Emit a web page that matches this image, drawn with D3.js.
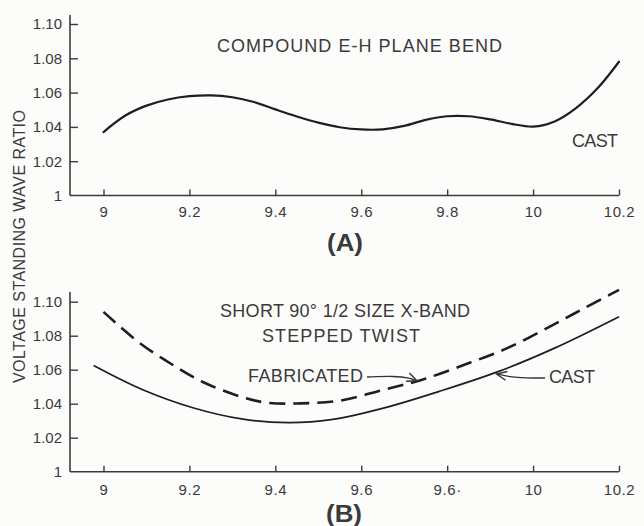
<!DOCTYPE html>
<html>
<head>
<meta charset="utf-8">
<script src="https://cdn.jsdelivr.net/npm/d3@7"></script>
<style>
  html, body { margin: 0; padding: 0; background: #fcfcfa; }
  svg { display: block; }
  text { font-family: "Liberation Sans", Arial, sans-serif; fill: #3a3a3a; }
</style>
</head>
<body>
<svg id="chart" width="644" height="526"></svg>
<script>
// Frequency (GHz) ticks shared by both panels
const xTicks = [9, 9.2, 9.4, 9.6, 9.8, 10, 10.2];
const xTickLabelsA = ["9", "9.2", "9.4", "9.6", "9.8", "10", "10.2"];
const xTickLabelsB = ["9", "9.2", "9.4", "9.6", "9.6·", "10", "10.2"];
const yTicks = [1, 1.02, 1.04, 1.06, 1.08, 1.10];
const yTickLabels = ["1", "1.02", "1.04", "1.06", "1.08", "1.10"];

// (A) compound E-H plane bend, cast
const freqA = [9.0, 9.05, 9.10, 9.15, 9.20, 9.25, 9.30, 9.35, 9.40, 9.45, 9.50, 9.55, 9.60, 9.65, 9.70, 9.75, 9.80, 9.85, 9.90, 9.95, 10.0, 10.05, 10.10, 10.15, 10.2];
const vswrCastA = [1.037, 1.0465, 1.0524, 1.0560, 1.0579, 1.0584, 1.0573, 1.0545, 1.0502, 1.0461, 1.0425, 1.0398, 1.0385, 1.0386, 1.0406, 1.0441, 1.0462, 1.0462, 1.0444, 1.0418, 1.0402, 1.0432, 1.0510, 1.0625, 1.078];

// (B) short 90° stepped twist, fabricated
const freqFabB = [9.0, 9.08, 9.155, 9.23, 9.32, 9.38, 9.46, 9.55, 9.65, 9.74, 9.84, 9.94, 10.04, 10.12, 10.2];
const vswrFabB = [1.094, 1.0765, 1.0638, 1.0529, 1.0441, 1.0406, 1.0402, 1.0418, 1.0481, 1.054, 1.0629, 1.0727, 1.0855, 1.0963, 1.107];

// (B) short 90° stepped twist, cast
const freqCastB = [8.977, 9.09, 9.21, 9.325, 9.43, 9.53, 9.665, 9.78, 9.92, 10.05, 10.2];
const vswrCastB = [1.0625, 1.0484, 1.0375, 1.0309, 1.0289, 1.0306, 1.0383, 1.0471, 1.059, 1.0727, 1.0912];

const svg = d3.select("#chart");
const ink = "#1e1e1e";
const axisInk = "#3a3a3a";
const axisLeftX = 70;

const x = d3.scaleLinear().domain([9, 10.2]).range([103.5, 619]);

function drawPanel(opts) {
  const y = d3.scaleLinear().domain([1, 1.10]).range([opts.bottom, opts.top]);
  const g = svg.append("g");

  // y axis: ticks point inward, labels on the left
  const yAxis = d3.axisLeft(y)
    .tickValues(yTicks)
    .tickFormat((d, i) => yTickLabels[i])
    .tickSizeInner(-8)
    .tickSizeOuter(0)
    .tickPadding(8);
  const gy = g.append("g").attr("transform", `translate(${axisLeftX},0)`).call(yAxis);
  gy.select(".domain").remove();
  gy.selectAll(".tick line").attr("stroke", axisInk).attr("stroke-width", 1.4)
    .filter(d => d === 1).remove();
  gy.selectAll(".tick text").attr("font-size", 15).attr("fill", "#3a3a3a")
    .style("font-family", "'Liberation Sans', Arial, sans-serif");

  // x axis: short upward ticks
  const xAxis = d3.axisBottom(x)
    .tickValues(xTicks)
    .tickFormat((d, i) => opts.xLabels[i])
    .tickSizeInner(-6)
    .tickSizeOuter(0)
    .tickPadding(opts.xPad);
  const gx = g.append("g").attr("transform", `translate(0,${opts.bottom})`).call(xAxis);
  gx.select(".domain").remove();
  gx.selectAll(".tick line").attr("stroke", axisInk).attr("stroke-width", 1.4);
  gx.selectAll(".tick text").attr("font-size", 15).attr("fill", "#3a3a3a")
    .attr("letter-spacing", 0.6)
    .style("font-family", "'Liberation Sans', Arial, sans-serif");

  // axis frame lines
  g.append("line").attr("x1", axisLeftX).attr("x2", axisLeftX)
    .attr("y1", opts.axisTop).attr("y2", opts.bottom)
    .attr("stroke", axisInk).attr("stroke-width", 1.6);
  g.append("line").attr("x1", axisLeftX).attr("x2", x(10.2))
    .attr("y1", opts.bottom).attr("y2", opts.bottom)
    .attr("stroke", axisInk).attr("stroke-width", 1.6);

  return { g, y };
}

const line = (y) => d3.line().x(d => x(d[0])).y(d => y(d[1])).curve(d3.curveCatmullRom.alpha(0.5));

function label(g, txt, x0, baseline, width, size, extra) {
  const t = g.append("text")
    .attr("x", x0).attr("y", baseline)
    .attr("font-size", size)
    .attr("textLength", width)
    .attr("lengthAdjust", "spacing")
    .text(txt);
  if (extra) extra(t);
  return t;
}

// ---- Panel A ----
const A = drawPanel({ top: 24, bottom: 195.5, axisTop: 15, xLabels: xTickLabelsA, xPad: 11 });
A.g.append("path")
  .datum(d3.zip(freqA, vswrCastA))
  .attr("d", line(A.y))
  .attr("fill", "none").attr("stroke", ink).attr("stroke-width", 2.2)
  .attr("stroke-linecap", "round");

label(A.g, "COMPOUND E-H PLANE BEND", 217, 52, 285, 18);
label(A.g, "CAST", 572, 147, 46, 18);
label(A.g, "(A)", 327, 251, 36, 23, t => t.attr("font-weight", "bold").attr("fill", "#1e1e1e")
  .attr("lengthAdjust", "spacingAndGlyphs"));

// ---- Panel B ----
const B = drawPanel({ top: 301.7, bottom: 471.7, axisTop: 292, xLabels: xTickLabelsB, xPad: 12.5 });
B.g.append("path")
  .datum(d3.zip(freqFabB, vswrFabB))
  .attr("d", line(B.y))
  .attr("fill", "none").attr("stroke", ink).attr("stroke-width", 2.6)
  .attr("stroke-dasharray", "16,8");
B.g.append("path")
  .datum(d3.zip(freqCastB, vswrCastB))
  .attr("d", line(B.y))
  .attr("fill", "none").attr("stroke", ink).attr("stroke-width", 1.7);

label(B.g, "SHORT 90° 1/2 SIZE X-BAND", 220, 317, 250, 18);
label(B.g, "STEPPED TWIST", 262, 342, 158, 18);
label(B.g, "FABRICATED", 248, 382, 115, 18);
label(B.g, "CAST", 549, 383, 46, 18);
label(B.g, "(B)", 326, 522, 36, 23, t => t.attr("font-weight", "bold").attr("fill", "#1e1e1e")
  .attr("lengthAdjust", "spacingAndGlyphs"));

// leader arrows from the labels to their curves
function arrow(g, pts, tip, back) {
  g.append("path")
    .attr("d", d3.line().curve(d3.curveBasis)(pts))
    .attr("fill", "none").attr("stroke", "#333").attr("stroke-width", 1.3);
  const [tx, ty] = tip;
  const ang = Math.atan2(ty - back[1], tx - back[0]);
  const len = 11, spread = 0.42;
  const p1 = [tx - len * Math.cos(ang - spread), ty - len * Math.sin(ang - spread)];
  const p2 = [tx - len * Math.cos(ang + spread), ty - len * Math.sin(ang + spread)];
  g.append("path")
    .attr("d", `M${p1[0]},${p1[1]}L${tx},${ty}L${p2[0]},${p2[1]}`)
    .attr("fill", "none").attr("stroke", "#333").attr("stroke-width", 1.4);
}

const fabTip = [x(9.73), B.y(1.0535)];
arrow(B.g, [[367, 377], [395, 376], [410, 378], fabTip], fabTip, [405, 376]);

const castTip = [x(9.915), B.y(1.0575)];
arrow(B.g, [[545, 378], [525, 378], [510, 377], castTip], castTip, [515, 377.5]);

// shared y-axis title
svg.append("text")
  .attr("transform", "translate(25,383) rotate(-90)")
  .attr("font-size", 16)
  .attr("textLength", 273)
  .attr("lengthAdjust", "spacing")
  .text("VOLTAGE STANDING WAVE RATIO");
</script>
</body>
</html>
